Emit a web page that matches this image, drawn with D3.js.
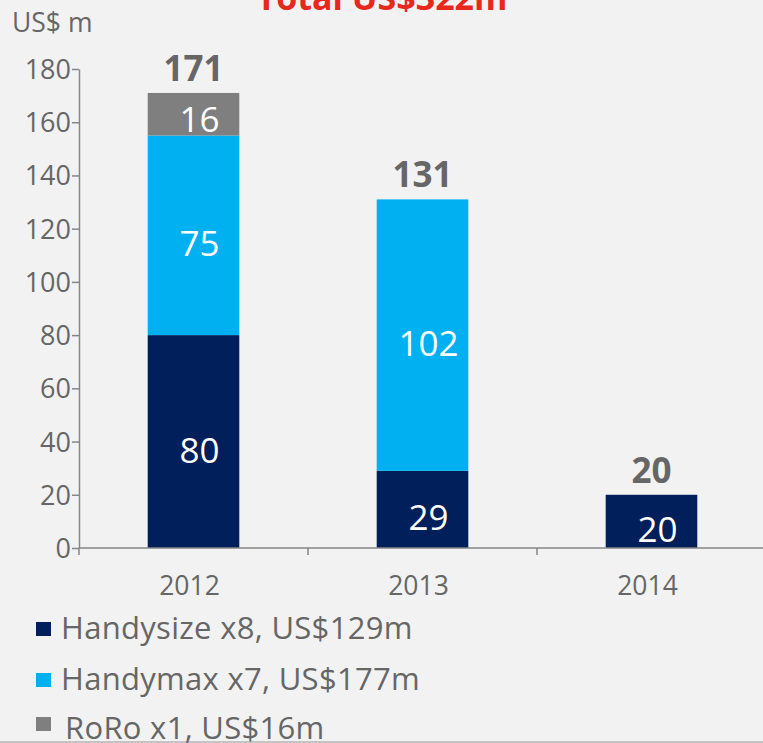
<!DOCTYPE html>
<html>
<head>
<meta charset="utf-8">
<script src="https://cdn.jsdelivr.net/npm/d3@7"></script>
<style>
  body { margin: 0; background: #f2f2f2; }
  svg { display: block; font-family: "Open Sans", sans-serif; }
</style>
</head>
<body>
<svg id="chart"></svg>
<script>
const years = ["2012", "2013", "2014"];
const handysize = [80, 29, 20];
const handymax = [75, 102, 0];
const roro = [16, 0, 0];
const totals = [171, 131, 20];
const seriesNames = ["Handysize x8, US$129m", "Handymax x7, US$177m", "RoRo x1, US$16m"];
const colors = ["#001f5b", "#00b0f0", "#7f7f7f"];
const yTicks = [0, 20, 40, 60, 80, 100, 120, 140, 160, 180];

const W = 763, H = 743;
const svg = d3.select("#chart").attr("width", W).attr("height", H);

svg.append("rect").attr("width", W).attr("height", H).attr("fill", "#f2f2f2");
// faint border line at the very bottom
svg.append("line").attr("x1", 0).attr("x2", W).attr("y1", 742).attr("y2", 742)
    .attr("stroke", "#c4c4c4").attr("stroke-width", 2);

const x = d3.scaleBand().domain(years).range([79, 766]).padding(0);
const y = d3.scaleLinear().domain([0, 180]).range([548, 69]);

const rows = years.map((yr, i) => ({year: yr, s0: handysize[i], s1: handymax[i], s2: roro[i]}));
const stacked = d3.stack().keys(["s0", "s1", "s2"])(rows);

// title (cut off at top in the original)
svg.append("text")
    .attr("x", 382).attr("y", 10)
    .attr("text-anchor", "middle")
    .attr("fill", "#e8281c")
    .attr("font-weight", "bold")
    .attr("font-size", 34)
    .text("Total US$322m");

svg.append("text")
    .attr("x", 12).attr("y", 32)
    .attr("fill", "#666")
    .attr("font-size", 26.5)
    .text("US$ m");

// bars
const barW = x.bandwidth() * 0.4;
stacked.forEach((layer, li) => {
    svg.append("g").selectAll("rect")
        .data(layer)
        .enter().append("rect")
        .attr("x", d => x(d.data.year) + (x.bandwidth() - barW) / 2)
        .attr("y", d => y(d[1]))
        .attr("width", barW)
        .attr("height", d => y(d[0]) - y(d[1]))
        .attr("fill", colors[li]);

    svg.append("g").selectAll("text")
        .data(layer.filter(d => d[1] - d[0] > 0))
        .enter().append("text")
        .attr("x", d => x(d.data.year) + x.bandwidth() / 2 + 6)
        .attr("y", d => Math.min((y(d[0]) + y(d[1])) / 2 + 21, y(d[0]) - 4))
        .attr("text-anchor", "middle")
        .attr("fill", "#fff")
        .attr("font-size", 35)
        .text(d => d[1] - d[0]);
});

// totals
svg.append("g").selectAll("text")
    .data(totals)
    .enter().append("text")
    .attr("x", (d, i) => x(years[i]) + x.bandwidth() / 2)
    .attr("y", d => y(d) - 12)
    .attr("text-anchor", "middle")
    .attr("fill", "#666")
    .attr("font-weight", "bold")
    .attr("font-size", 35)
    .text(d => d);

// y axis
const yAxis = svg.append("g")
    .attr("transform", "translate(79,0)")
    .call(d3.axisLeft(y).tickValues(yTicks).tickSize(7).tickSizeOuter(0).tickPadding(1));
yAxis.select(".domain").attr("stroke", "#868686").attr("stroke-width", 1.5);
yAxis.selectAll(".tick line").attr("stroke", "#868686").attr("stroke-width", 1.5);
yAxis.selectAll(".tick text").attr("fill", "#666").attr("font-size", 27)
    .attr("font-family", "Open Sans, sans-serif").attr("dy", "0.35em");

// x axis: line with ticks at band boundaries
const xg = svg.append("g").attr("transform", "translate(0,548)");
xg.append("line").attr("x1", 79).attr("x2", 766)
    .attr("stroke", "#868686").attr("stroke-width", 1.5);
xg.selectAll(".bt")
    .data(years.slice(1))
    .enter().append("line")
    .attr("x1", d => x(d)).attr("x2", d => x(d))
    .attr("y1", 0).attr("y2", 7)
    .attr("stroke", "#868686").attr("stroke-width", 1.5);
xg.append("line").attr("x1", 79).attr("x2", 79).attr("y1", 0).attr("y2", 7)
    .attr("stroke", "#868686").attr("stroke-width", 1.5);
xg.selectAll(".lbl")
    .data(years)
    .enter().append("text")
    .attr("x", d => x(d) + x.bandwidth() / 2 - 4)
    .attr("y", 47)
    .attr("text-anchor", "middle")
    .attr("fill", "#666")
    .attr("font-size", 26.5)
    .text(d => d);

// legend
const legY = [639, 690, 739];
const legBoxY = [622, 673, 717];
const legTextX = [61, 61, 65];
const legend = svg.append("g");
seriesNames.forEach((name, i) => {
    legend.append("rect")
        .attr("x", 36).attr("y", legBoxY[i])
        .attr("width", 15).attr("height", 14)
        .attr("fill", colors[i]);
    legend.append("text")
        .attr("x", legTextX[i]).attr("y", legY[i])
        .attr("fill", "#666")
        .attr("font-size", 31)
        .attr("letter-spacing", 0.3)
        .text(name);
});
</script>
</body>
</html>
